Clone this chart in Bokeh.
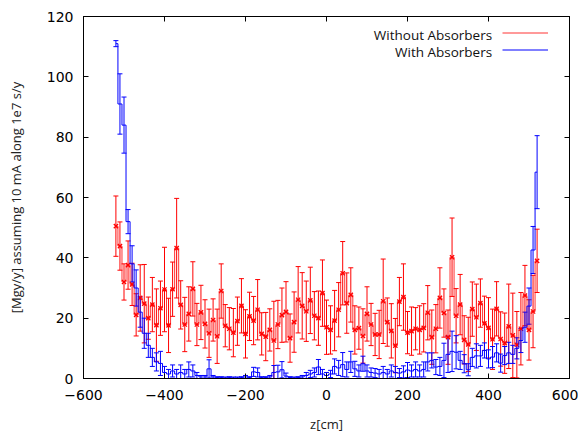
from bokeh.plotting import figure
from bokeh.models import (Range1d, LinearAxis, FixedTicker, Whisker, TeeHead,
                          ColumnDataSource, Legend, LegendItem, Label)
from bokeh.embed import file_html
from bokeh.resources import INLINE

# bin centres [cm]
z = [-520, -510, -500, -490, -480, -470, -460, -450, -440, -430,
     -420, -410, -400, -390, -380, -370, -360, -350, -340, -330,
     -320, -310, -300, -290, -280, -270, -260, -250, -240, -230,
     -220, -210, -200, -190, -180, -170, -160, -150, -140, -130,
     -120, -110, -100, -90, -80, -70, -60, -50, -40, -30,
     -20, -10, 0, 10, 20, 30, 40, 50, 60, 70,
     80, 90, 100, 110, 120, 130, 140, 150, 160, 170,
     180, 190, 200, 210, 220, 230, 240, 250, 260, 270,
     280, 290, 300, 310, 320, 330, 340, 350, 360, 370,
     380, 390, 400, 410, 420, 430, 440, 450, 460, 470,
     480, 490, 500, 510, 520]

# Without Absorbers
without_val = [50.5, 43.9, 32.0, 37.6, 31.2, 21.1, 26.7, 24.8, 20.0, 24.5,
               17.7, 23.3, 29.5, 17.6, 29.6, 43.2, 24.4, 17.9, 21.4, 29.7,
               17.9, 21.9, 18.1, 15.0, 19.4, 14.0, 29.0, 17.5, 16.5, 15.2,
               19.0, 24.1, 14.8, 20.6, 19.2, 22.8, 14.8, 13.9, 16.1, 12.6,
               17.9, 21.0, 22.1, 13.4, 18.7, 26.1, 24.1, 22.3, 25.9, 20.8,
               20.0, 28.3, 17.0, 16.1, 19.2, 22.8, 34.9, 25.0, 27.7, 16.1,
               16.7, 14.1, 21.4, 17.9, 14.6, 14.6, 25.6, 18.7, 15.8, 10.9,
               25.5, 27.0, 15.2, 15.7, 16.5, 16.1, 16.8, 21.8, 13.7, 16.5,
               26.7, 21.7, 13.7, 40.2, 20.8, 24.5, 12.8, 11.3, 23.0, 20.3,
               25.0, 18.3, 16.8, 13.0, 23.1, 13.1, 11.7, 17.3, 14.3, 11.2,
               16.5, 27.5, 16.1, 22.2, 39.0]
without_err = [10, 8, 6, 8, 7, 7, 11, 13, 7, 9,
               12, 9, 14, 9, 9, 16.5, 8, 9, 9, 9,
               7, 9, 8, 8, 7, 9, 9, 7, 7, 8,
               8, 9, 8, 8, 8, 10, 7, 8, 7, 13,
               8, 9, 10, 8, 10, 11, 11, 10, 11, 8,
               9, 11, 9, 8, 10, 9, 10.5, 10, 9, 8,
               7, 9, 9, 7, 7, 8, 14, 8, 9, 9,
               8, 11, 7, 8, 7, 8, 8, 9, 9, 8,
               10, 8, 9, 13, 9, 10, 8, 9, 9, 11,
               8, 9, 10, 10, 9, 9, 10, 14, 14, 11,
               12, 10, 10, 12, 10.5]

# With Absorbers
with_val = [111.0, 91.0, 84.0, 52.0, 38.0, 30.0, 22.0, 15.0, 11.0, 7.0,
            5.5, 5.0, 2.0, 1.5, 2.5, 1.5, 2.0, 1.5, 3.0, 2.5,
            1.0, 0.5, 0.5, 3.2, 0.5, 0.3, 0.3, 0.2, 0.3, 0.2,
            0.2, 0.3, 0.5, 0.3, 2.2, 2.0, 0.3, 0.3, 0.5, 2.0,
            2.2, 2.9, 0.8, 0.3, 0.2, 0.3, 0.5, 1.0, 1.5, 2.0,
            3.8, 1.5, 1.0, 1.5, 4.0, 3.5, 4.6, 3.0, 5.5, 3.2,
            2.5, 4.9, 2.5, 2.0, 1.8, 1.5, 2.0, 1.5, 2.5, 2.0,
            1.8, 2.2, 2.8, 2.5, 3.0, 2.5, 3.0, 5.5, 6.0, 3.8,
            4.0, 6.0, 8.0, 9.0, 8.7, 6.0, 4.9, 2.9, 7.0, 7.5,
            7.5, 9.3, 6.5, 7.1, 8.5, 5.1, 7.6, 8.5, 8.0, 10.0,
            12.6, 17.0, 24.0, 42.6, 68.4]
with_err = [1.0, 10.0, 9.3, 4.0, 6.0, 6.0, 5.0, 5.0, 4.0, 3.0,
            3.0, 4.0, 2.0, 1.5, 2.0, 1.5, 2.5, 1.5, 2.5, 2.0,
            1.0, 0.5, 0.5, 3.0, 0.5, 0.3, 0.3, 0.3, 0.3, 0.3,
            0.3, 0.3, 0.5, 0.3, 1.5, 1.5, 0.3, 0.3, 0.5, 2.3,
            2.2, 2.7, 1.0, 0.3, 0.3, 0.3, 0.5, 1.0, 1.2, 1.5,
            2.5, 1.5, 1.0, 1.2, 2.5, 2.5, 4.0, 2.5, 3.5, 2.5,
            2.0, 2.5, 2.0, 1.5, 1.5, 1.5, 2.0, 1.5, 2.0, 2.0,
            1.5, 2.0, 2.5, 2.0, 2.5, 2.0, 2.5, 3.0, 2.5, 2.5,
            3.0, 5.7, 6.0, 6.7, 5.5, 3.0, 3.0, 2.0, 3.0, 4.0,
            3.5, 2.5, 3.0, 3.5, 3.0, 3.0, 3.0, 3.5, 3.0, 3.5,
            4.0, 5.0, 6.0, 7.8, 12.1]

x_ticks = [-600, -400, -200, 0, 200, 400, 600]
y_ticks = [0, 20, 40, 60, 80, 100, 120]
series_names = ["Without Absorbers", "With Absorbers"]

src_r = ColumnDataSource(dict(z=z, v=without_val,
                              up=[v + e for v, e in zip(without_val, without_err)],
                              lo=[v - e for v, e in zip(without_val, without_err)]))
src_b = ColumnDataSource(dict(z=z, v=with_val,
                              up=[v + e for v, e in zip(with_val, with_err)],
                              lo=[v - e for v, e in zip(with_val, with_err)]))

p = figure(width=578, height=436, x_range=Range1d(-600, 600), y_range=Range1d(0, 120),
           output_backend="svg", toolbar_location=None,
           min_border_left=83, min_border_right=9, min_border_top=16, min_border_bottom=58)
p.xgrid.visible = False
p.ygrid.visible = False
p.outline_line_color = "black"
p.outline_line_width = 1
p.background_fill_color = "white"
p.border_fill_color = "white"

TICK_FONT = "DejaVu Sans"
LABEL_FONT = "Open Sans"

for ax, ticks in ((p.xaxis[0], x_ticks), (p.yaxis[0], y_ticks)):
    ax.ticker = FixedTicker(ticks=ticks)
    ax.major_tick_in = 5
    ax.major_tick_out = 0
    ax.minor_tick_line_color = None
    ax.axis_line_color = "black"
    ax.major_tick_line_color = "black"
    ax.major_label_text_font = TICK_FONT
    ax.major_label_text_font_size = "14px"
    ax.major_label_text_color = "black"
    ax.axis_label_text_font = LABEL_FONT
    ax.axis_label_text_font_size = "13px"
    ax.axis_label_text_font_style = "normal"
    ax.axis_label_text_color = "#222222"

p.xaxis[0].axis_label = "z[cm]"
p.xaxis[0].major_label_standoff = 11
p.xaxis[0].axis_label_standoff = 12
p.yaxis[0].axis_label = "[Mgy/y] assuming 10 mA along 1e7 s/y"
p.yaxis[0].major_label_standoff = 10
p.yaxis[0].axis_label_standoff = 19

for loc, ticks in (("above", x_ticks), ("right", y_ticks)):
    ax = LinearAxis(ticker=FixedTicker(ticks=ticks), major_label_text_color=None,
                    major_label_text_font_size="1px",
                    major_label_standoff=0, major_tick_in=5, major_tick_out=0,
                    minor_tick_line_color=None, axis_line_color="black",
                    major_tick_line_color="black")
    p.add_layout(ax, loc)

# Without absorbers (red)
rs = p.step(x="z", y="v", source=src_r, mode="center", line_color="red", line_width=1,
            line_alpha=0.8)
p.add_layout(Whisker(base="z", upper="up", lower="lo", source=src_r, line_color="red",
                     line_width=1,
                     upper_head=TeeHead(size=5, line_color="red", line_width=1),
                     lower_head=TeeHead(size=5, line_color="red", line_width=1)))
p.scatter(x="z", y="v", source=src_r, marker="x", size=6, line_color="red", line_width=1.3)

# With absorbers (blue)
bs = p.step(x="z", y="v", source=src_b, mode="center", line_color="blue", line_width=1)
p.add_layout(Whisker(base="z", upper="up", lower="lo", source=src_b, line_color="blue",
                     line_width=1,
                     upper_head=TeeHead(size=5, line_color="blue", line_width=1),
                     lower_head=TeeHead(size=5, line_color="blue", line_width=1)))

legend = Legend(items=[LegendItem(label=" ", renderers=[rs]),
                       LegendItem(label=" ", renderers=[bs])],
                location="top_right", margin=8, padding=0, glyph_width=46,
                glyph_height=17, label_height=17, label_width=0, label_standoff=13,
                spacing=0, border_line_color=None, background_fill_alpha=0,
                label_text_font_size="1px")
p.add_layout(legend)

for name, yv in zip(series_names, [114.0, 108.1]):
    p.add_layout(Label(x=409, y=yv, text=name, text_align="right", text_baseline="middle",
                       text_font=LABEL_FONT, text_font_size="13.5px", text_color="#111111"))

open("out.html", "w").write(file_html(p, INLINE))
